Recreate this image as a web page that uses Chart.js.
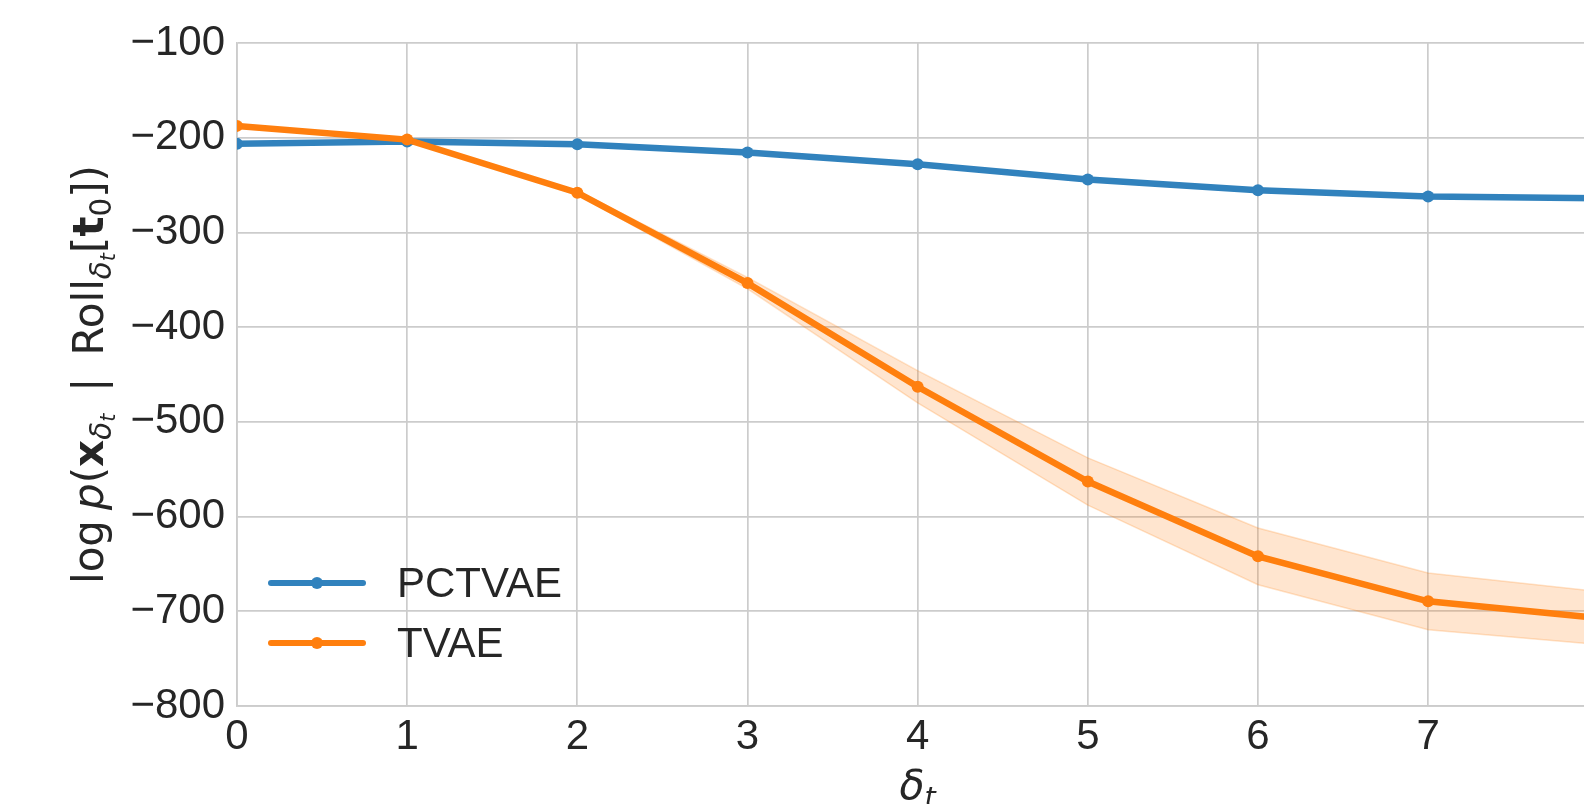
<!DOCTYPE html>
<html>
<head>
<meta charset="utf-8">
<script src="https://cdn.jsdelivr.net/npm/chart.js@4/dist/chart.umd.min.js"></script>
<style>
  html, body { margin: 0; padding: 0; background: #fff; overflow: hidden; }
  #wrap { width: 1584px; height: 804px; overflow: hidden; }
</style>
</head>
<body>
<div id="wrap"><canvas id="chart" width="1616" height="804"></canvas></div>
<script>
const deltas = [0, 1, 2, 3, 4, 5, 6, 7, 8];
const pctvae = [-206.5, -204, -207, -215.5, -228, -244, -255.5, -262, -264];
const tvae = [-187.5, -202, -258, -353.5, -463, -563, -642, -689.5, -707];
const tvaeStd = [0, 0, 2, 6, 17, 25, 30, 30, 28];
const yTicks = [-800, -700, -600, -500, -400, -300, -200, -100];

const BLUE = '#3182bd';
const ORANGE = '#ff7f0e';
const TEXT = '#262626';
const FONT = '"Liberation Sans", Arial, sans-serif';
const MATH = '"DejaVu Sans", sans-serif';

function pts(vals) {
  return deltas.map((d, i) => ({ x: d, y: vals[i] }));
}

// text runs with italic / bold / subscript pieces (mathtext-like labels)
function richWidth(ctx, parts, size) {
  let w = 0;
  parts.forEach(p => {
    if (p.gap) { w += p.gap; return; }
    ctx.font = (p.style || 'normal') + ' ' + size * (p.scale || 1) + 'px ' + MATH;
    w += ctx.measureText(p.t).width;
  });
  return w;
}
function richDraw(ctx, parts, size, x, y) {
  parts.forEach(p => {
    if (p.gap) { x += p.gap; return; }
    ctx.font = (p.style || 'normal') + ' ' + size * (p.scale || 1) + 'px ' + MATH;
    ctx.fillText(p.t, x, y + (p.dy || 0));
    x += ctx.measureText(p.t).width;
  });
}

const yTitle = [
  { t: 'log' }, { gap: 10 },
  { t: 'p', style: 'italic' },
  { t: '(' },
  { t: 'x', style: 'bold' },
  { t: 'δ', style: 'italic', scale: 0.7, dy: 8 },
  { t: 't', style: 'italic', scale: 0.5, dy: 12 },
  { gap: 22 }, { t: '|' }, { gap: 22 },
  { t: 'Roll' },
  { t: 'δ', style: 'italic', scale: 0.7, dy: 8 },
  { t: 't', style: 'italic', scale: 0.5, dy: 12 },
  { t: '[' },
  { t: 't', style: 'bold' },
  { t: '0', scale: 0.7, dy: 8 },
  { t: '])' }
];
const xTitle = [
  { t: 'δ', style: 'italic' },
  { t: 't', style: 'italic', scale: 0.7, dy: 8 }
];

const extras = {
  id: 'extras',
  afterDraw(chart) {
    const ctx = chart.ctx;
    const area = chart.chartArea;
    ctx.save();
    ctx.fillStyle = TEXT;
    ctx.textBaseline = 'alphabetic';
    ctx.textAlign = 'left';

    // y title, centred on the axis
    const wy = richWidth(ctx, yTitle, 42);
    ctx.save();
    ctx.translate(103, (area.top + area.bottom) / 2);
    ctx.rotate(-Math.PI / 2);
    richDraw(ctx, yTitle, 42, -wy / 2, 0);
    ctx.restore();

    // x title
    const wx = richWidth(ctx, xTitle, 41);
    richDraw(ctx, xTitle, 41, (area.left + area.right) / 2 - wx / 2, 799);

    // legend inside the axes, lower left
    const rows = [
      { label: 'PCTVAE', color: BLUE, y: area.bottom - 123 },
      { label: 'TVAE', color: ORANGE, y: area.bottom - 63 }
    ];
    rows.forEach(r => {
      const x0 = area.left + 34;
      ctx.strokeStyle = r.color;
      ctx.lineWidth = 6;
      ctx.lineCap = 'round';
      ctx.beginPath();
      ctx.moveTo(x0, r.y);
      ctx.lineTo(x0 + 92, r.y);
      ctx.stroke();
      ctx.fillStyle = r.color;
      ctx.beginPath();
      ctx.arc(x0 + 46, r.y, 6, 0, Math.PI * 2);
      ctx.fill();
      ctx.fillStyle = TEXT;
      ctx.font = '42px ' + FONT;
      ctx.textBaseline = 'middle';
      ctx.fillText(r.label, x0 + 126, r.y + 2);
      ctx.textBaseline = 'alphabetic';
    });
    ctx.restore();
  }
};

const ctx = document.getElementById('chart').getContext('2d');
new Chart(ctx, {
  type: 'line',
  data: {
    datasets: [
      {
        label: 'TVAE',
        data: pts(tvae),
        borderColor: ORANGE,
        backgroundColor: ORANGE,
        borderWidth: 6.5,
        pointRadius: 6,
        pointBorderWidth: 0,
        tension: 0,
        fill: false
      },
      {
        label: 'PCTVAE',
        data: pts(pctvae),
        borderColor: BLUE,
        backgroundColor: BLUE,
        borderWidth: 6.5,
        pointRadius: 6,
        pointBorderWidth: 0,
        tension: 0,
        fill: false
      },
      {
        label: 'low',
        data: pts(tvae.map((v, i) => v - tvaeStd[i])),
        borderColor: 'rgba(255,127,14,0.22)',
        borderWidth: 1.5,
        pointRadius: 0,
        tension: 0,
        fill: false
      },
      {
        label: 'high',
        data: pts(tvae.map((v, i) => v + tvaeStd[i])),
        borderColor: 'rgba(255,127,14,0.22)',
        backgroundColor: 'rgba(255,127,14,0.2)',
        borderWidth: 1.5,
        pointRadius: 0,
        tension: 0,
        fill: '-1'
      }
    ]
  },
  options: {
    responsive: false,
    animation: false,
    devicePixelRatio: 1,
    layout: { padding: { top: 43, right: 0, left: 0, bottom: 0 } },
    plugins: {
      legend: { display: false },
      tooltip: { enabled: false }
    },
    scales: {
      x: {
        type: 'linear',
        min: 0,
        max: 8,
        grid: { color: '#cccccc', lineWidth: 1.7, drawTicks: false },
        border: { color: '#cccccc', width: 1.7 },
        ticks: {
          stepSize: 1,
          padding: 6,
          color: TEXT,
          font: { family: FONT, size: 42 },
          maxRotation: 0
        },
        afterFit: function (scale) { scale.height = 98; }
      },
      y: {
        min: -800,
        max: -100,
        grid: { color: '#cccccc', lineWidth: 1.7, drawTicks: false },
        border: { color: '#cccccc', width: 1.7 },
        afterBuildTicks: function (scale) {
          scale.ticks = yTicks.map(v => ({ value: v }));
        },
        ticks: {
          padding: 12,
          color: TEXT,
          font: { family: FONT, size: 42 },
          callback: function (v) { return v < 0 ? '\u2212' + Math.abs(v) : String(v); }
        },
        afterFit: function (scale) { scale.width = 237; }
      }
    }
  },
  plugins: [extras]
});
</script>
</body>
</html>
